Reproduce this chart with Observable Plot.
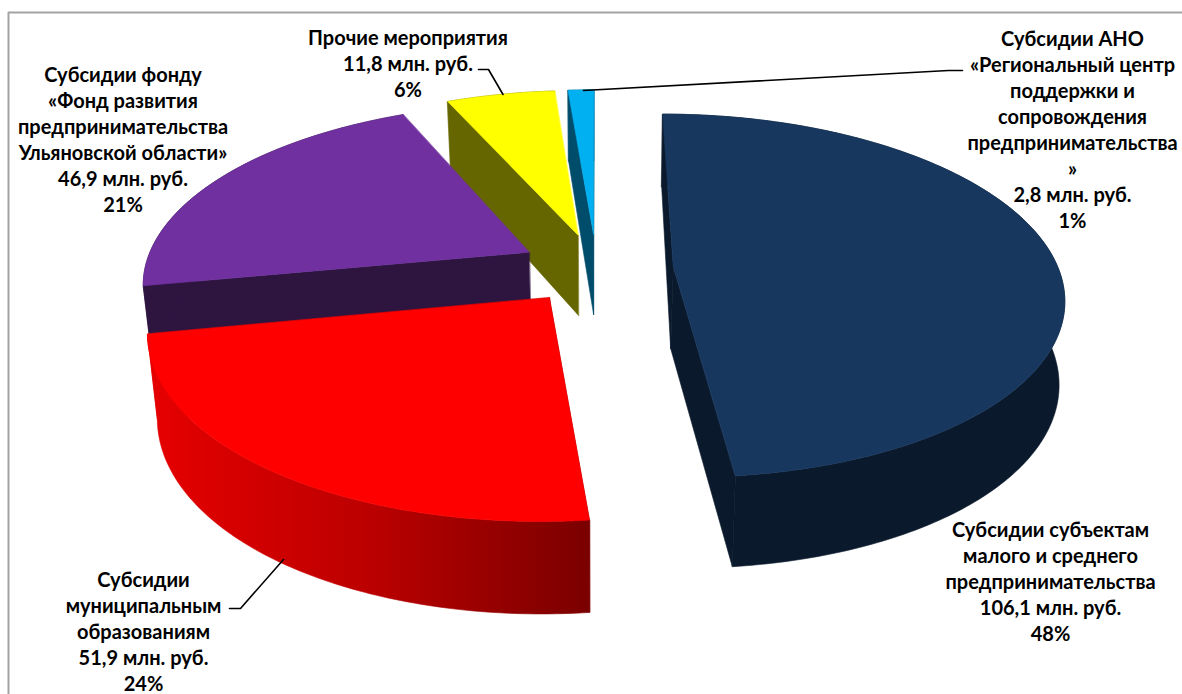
<!DOCTYPE html>
<html><head><meta charset="utf-8">
<script src="https://cdn.jsdelivr.net/npm/d3@7"></script>
<script src="https://cdn.jsdelivr.net/npm/@observablehq/plot@0.6"></script>
<style>html,body{margin:0;padding:0;background:#fff}svg{display:block}</style>
</head><body><div id="c"></div>
<script>
// data (clockwise from 12 o'clock)
const nameLines = [
  ["Субсидии субъектам","малого и среднего","предпринимательства"],
  ["Субсидии","муниципальным","образованиям"],
  ["Субсидии фонду","«Фонд развития","предпринимательства","Ульяновской области»"],
  ["Прочие мероприятия"],
  ["Субсидии АНО","«Региональный центр","поддержки и","сопровождения","предпринимательства","»"]
];
const values = [106.1, 51.9, 46.9, 11.8, 2.8];
const percents = [48, 24, 21, 6, 1];
const topColors = ["#17375e","#ff0000","#7030a0","#ffff00","#00b0f0"];
const sideColors = ["#0a1a2c","url(#redWall)","#2e1540","#666600","#004d6b"];
const drawOrder = [4,3,2,0,1];
// label centres and leader lines (annotation layout)
const labelX = [1050,143,122.5,407.5,1072];
const labelY = [580,630,138,62.5,128];
const leaders = [
  {id:"red", pts:[[229,608],[240,608],[283,559]]},
  {id:"yellow", pts:[[478,69],[488,69],[502.5,94]]},
  {id:"cyan", pts:[[583,90],[948,70],[962,70]]}
];
// pie view parameters
const view = {cx:596, cy:268, rx:385, ry:177.5, persp:0.16, explode:0.2};
const total = d3.sum(values);
const project = (u,v,bottom=false) => {
  const w = 1 + view.persp*v;
  let x = view.rx*u/w, y = -view.ry*v/w;
  if (bottom) {
    x = x<0 ? x*0.978 : x*0.992 - 2 + 1.5*Math.max(0,v);
    y += 82 - 9*v;
  }
  return {x:view.cx+x, y:view.cy+y};
};
let acc = 0;
const slices = values.map((val,i)=>{
  const a0 = acc/total*2*Math.PI; acc += val; const a1 = acc/total*2*Math.PI;
  const m = (a0+a1)/2, ou = view.explode*Math.sin(m), ov = view.explode*Math.cos(m);
  const n = Math.max(4,Math.ceil((a1-a0)/0.015));
  const arcT = d3.range(n+1).map(k=>a0+(a1-a0)*k/n);
  const rim = (b)=>arcT.map(t=>project(ou+Math.sin(t),ov+Math.cos(t),b));
  const apex = (b)=>project(ou,ov,b);
  const rimTop = rim(false), rimBot = rim(true);
  return {
    top:[apex(false),...rimTop],
    wall:[...rimTop,...rimBot.slice().reverse()],
    face0:[apex(false),rimTop[0],rimBot[0],apex(true)],
    face1:[apex(false),rimTop[n],rimBot[n],apex(true)],
    end0:rimBot[0], end1:rimBot[n],
    i
  };
});
const poly = (pts,fill)=>Plot.line(pts,{x:"x",y:"y",fill,stroke:fill,strokeWidth:0.6,curve:"linear-closed"});
const faces = drawOrder.flatMap(i=>{
  const s = slices[i];
  const ring = s.top.map(p=>[p.x,p.y]);
  const shown = (p)=>!d3.polygonContains(ring,[p.x,p.y]);
  return [
    ...(shown(s.end0)?[poly(s.face0,sideColors[i])]:[]),
    ...(shown(s.end1)?[poly(s.face1,sideColors[i])]:[]),
    poly(s.wall,sideColors[i]),
    poly(s.top,topColors[i])
  ];
});
const fmt = v=>String(v).replace(".",",");
const labels = values.map((v,i)=>({
  x:labelX[i], y:labelY[i],
  text:[...nameLines[i],fmt(v)+" млн. руб.",percents[i]+"%"].join("\n")
}));
const defs = ()=>{
  const d = d3.create("svg:defs");
  const g = d.append("linearGradient").attr("id","redWall").attr("gradientUnits","userSpaceOnUse")
    .attr("x1",150).attr("x2",590).attr("y1",0).attr("y2",0);
  [[0,"#e60000"],[0.5,"#bb0000"],[1,"#7a0000"]].forEach(([o,c])=>g.append("stop").attr("offset",o).attr("stop-color",c));
  return d.node();
};
const chart = Plot.plot({
  width:1182,height:694,margin:0,
  x:{domain:[0,1182],axis:null},
  y:{domain:[694,0],axis:null},
  style:{background:"#fff"},
  marks:[
    defs,
    Plot.ruleY([12],{x1:8,x2:1182,stroke:"#a3a3a3",strokeWidth:2}),
    Plot.ruleX([8],{y1:12,y2:694,stroke:"#a3a3a3",strokeWidth:2}),
    ...faces,
    ...leaders.map(l=>Plot.line(l.pts,{x:d=>d[0],y:d=>d[1],stroke:"#000",strokeWidth:1.6})),
    Plot.text(labels,{x:"x",y:"y",text:"text",fontFamily:"Lato",fontWeight:"bold",fontSize:20,lineHeight:1.3,fill:"#000"})
  ]
});
document.getElementById("c").append(chart);
</script></body></html>
